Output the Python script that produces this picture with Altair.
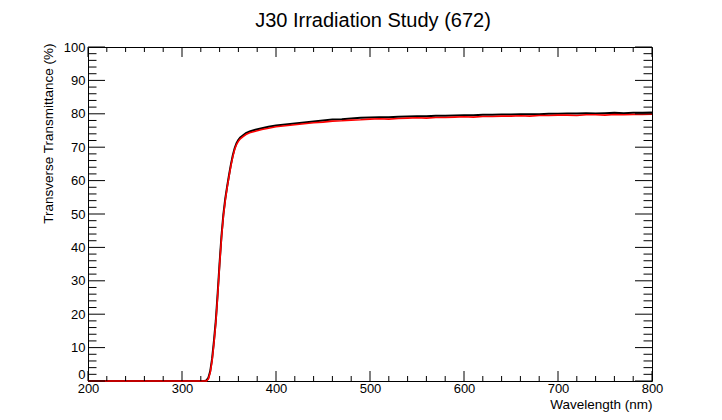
import altair as alt
import pandas as pd

# ---- data ----
wl_zero = [200, 250, 300, 324]
wl_rise = [326, 328, 330, 332, 334, 336, 338, 340, 342, 344, 346, 348, 350,
           352, 354, 356, 358, 360, 362, 365, 368, 372, 378, 385, 392]
black_rise = [0.2, 0.9, 2.9, 6.6, 12.0, 18.2, 26.5, 35.4, 43.4, 49.8, 54.5, 58.2, 61.6,
              64.8, 67.5, 69.7, 71.2, 72.2, 72.9, 73.6, 74.2, 74.7, 75.2, 75.7, 76.1]
red_rise = [0.0, 0.6, 2.5, 6.0, 11.3, 17.5, 25.8, 34.8, 42.8, 49.3, 54.0, 57.8, 61.2,
            64.4, 67.1, 69.3, 70.8, 71.8, 72.5, 73.2, 73.8, 74.3, 74.8, 75.3, 75.7]
wl_plateau = [400, 410, 420, 430, 440, 450, 460, 470, 480, 490, 500, 510, 520, 530,
              540, 550, 560, 570, 580, 590, 600, 610, 620, 630, 640, 650, 660, 670,
              680, 690, 700, 710, 720, 730, 740, 750, 760, 770, 780, 790, 800]
black_plateau = [76.5, 76.8, 77.1, 77.4, 77.7, 78.0, 78.3, 78.4, 78.6, 78.8, 78.9, 79.0,
                 79.0, 79.1, 79.2, 79.3, 79.3, 79.4, 79.4, 79.5, 79.6, 79.6, 79.7, 79.7,
                 79.8, 79.8, 79.9, 79.9, 79.9, 80.0, 80.0, 80.1, 80.1, 80.2, 80.1, 80.2,
                 80.3, 80.2, 80.3, 80.3, 80.4]
red_plateau = [76.1, 76.4, 76.7, 77.0, 77.3, 77.5, 77.8, 77.9, 78.1, 78.2, 78.4, 78.5,
               78.4, 78.6, 78.7, 78.8, 78.7, 78.9, 78.9, 79.0, 79.1, 79.0, 79.2, 79.2,
               79.3, 79.3, 79.4, 79.3, 79.5, 79.5, 79.6, 79.6, 79.5, 79.7, 79.7, 79.6,
               79.8, 79.7, 79.8, 79.8, 79.9]

x_major = [200, 300, 400, 500, 600, 700, 800]
x_minor = [v for v in range(220, 800, 20) if v % 100 != 0]
y_major = [0, 10, 20, 30, 40, 50, 60, 70, 80, 90, 100]
y_minor = [v for v in range(2, 100, 2) if v % 10 != 0]

W, H = 564, 334
FONT = "Liberation Sans"

black_df = pd.DataFrame({"wl": wl_zero + wl_rise + wl_plateau,
                         "t": [0, 0, 0, 0] + black_rise + black_plateau})
red_df = pd.DataFrame({"wl": wl_zero + wl_rise + wl_plateau,
                       "t": [0, 0, 0, 0] + red_rise + red_plateau})

xs = alt.Scale(domain=[200, 800], nice=False, zero=False)
ys = alt.Scale(domain=[0, 100], nice=False, zero=False)

x_axis = alt.Axis(values=x_major, format="d", ticks=False, domain=False, grid=False,
                  labelFont=FONT, labelFontSize=13, labelPadding=1, labelColor="black",
                  labelOverlap=False, labelFlush=False,
                  title="Wavelength (nm)", titleFont=FONT, titleFontSize=13.5,
                  titleFontWeight="normal", titleColor="black", titleAlign="right",
                  titleBaseline="alphabetic", titleX=W, titleY=27)
y_axis = alt.Axis(values=y_major, format="d", ticks=False, domain=False, grid=False,
                  labelFont=FONT, labelFontSize=13, labelPadding=3, labelColor="black",
                  labelOverlap=False, labelFlush=False,
                  labelBaseline={"condition": {"test": "datum.value === 0", "value": "bottom"},
                                 "value": "middle"},
                  title="Transverse Transmittance (%)", titleFont=FONT, titleFontSize=13.5,
                  titleFontWeight="normal", titleColor="black", titleAngle=270,
                  titleAlign="right", titleBaseline="middle", titleX=-40, titleY=-4)

X = alt.X("wl:Q", scale=xs, axis=x_axis, title="Wavelength (nm)")
Y = alt.Y("t:Q", scale=ys, axis=y_axis, title="Transverse Transmittance (%)")

black_line = alt.Chart(black_df).mark_line(color="black", strokeWidth=2).encode(x=X, y=Y)
red_line = alt.Chart(red_df).mark_line(color="#ff0000", strokeWidth=1.6).encode(x=X, y=Y)


def xticks(vals, length):
    df = pd.DataFrame({"wl": vals})
    bottom = alt.Chart(df).mark_rule(color="black", strokeWidth=1).encode(
        x=X, y=alt.value(H), y2=alt.value(H - length))
    top = alt.Chart(df).mark_rule(color="black", strokeWidth=1).encode(
        x=X, y=alt.value(0), y2=alt.value(length))
    return [bottom, top]


def yticks(vals, length):
    df = pd.DataFrame({"t": vals})
    left = alt.Chart(df).mark_rule(color="black", strokeWidth=1).encode(
        y=Y, x=alt.value(0), x2=alt.value(length))
    right = alt.Chart(df).mark_rule(color="black", strokeWidth=1).encode(
        y=Y, x=alt.value(W), x2=alt.value(W - length))
    return [left, right]


layers = ([black_line, red_line] + xticks(x_major, 10) + xticks(x_minor, 5)
          + yticks(y_major, 17) + yticks(y_minor, 8.5))

chart = alt.layer(*layers).properties(
    width=W, height=H,
    title=alt.TitleParams("J30 Irradiation Study (672)", font=FONT, fontSize=20,
                          fontWeight="normal", color="black", anchor="middle",
                          dx=3, offset=10),
    autosize=alt.AutoSizeParams(type="none"),
    padding={"left": 80, "top": 39, "right": 62, "bottom": 31},
    background="white",
).configure_view(stroke="black", strokeWidth=1)

chart.save("out.html", embed_options={"renderer": "svg", "actions": False})
